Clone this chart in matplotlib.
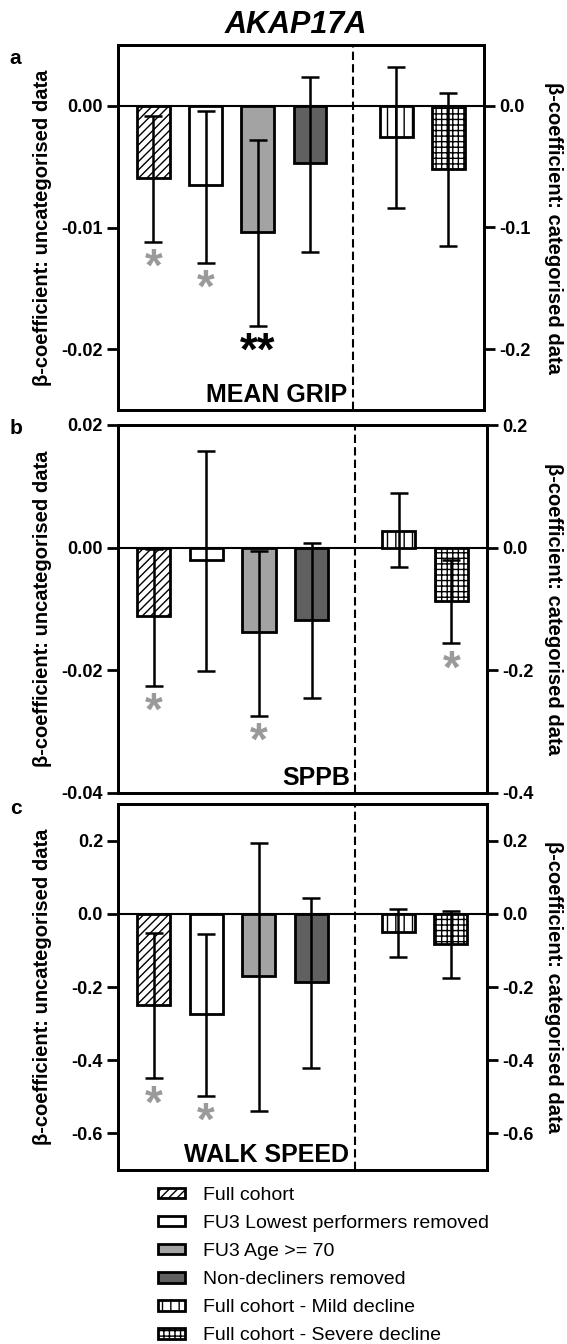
import numpy as np
import matplotlib
matplotlib.use("Agg")
import matplotlib.pyplot as plt
from matplotlib.patches import Patch
from matplotlib.ticker import FormatStrFormatter
from matplotlib.transforms import blended_transform_factory

# series (first four on the left axis, last two on the right axis)
series_names = ["Full cohort", "FU3 Lowest performers removed", "FU3 Age >= 70",
                "Non-decliners removed", "Full cohort - Mild decline",
                "Full cohort - Severe decline"]

# a: MEAN GRIP
grip_uncat = [-0.0059, -0.0065, -0.0104, -0.0047]
grip_uncat_lo = [-0.0112, -0.0129, -0.0181, -0.0120]
grip_uncat_hi = [-0.0008, -0.0004, -0.0028, 0.0024]
grip_cat = [-0.0255, -0.0516]
grip_cat_lo = [-0.0838, -0.1148]
grip_cat_hi = [0.0316, 0.0102]
grip_stars = ["*", "*", "**", "", "", ""]

# b: SPPB
sppb_uncat = [-0.0112, -0.0021, -0.0138, -0.0118]
sppb_uncat_lo = [-0.0226, -0.0201, -0.0275, -0.0245]
sppb_uncat_hi = [-0.0003, 0.0157, -0.0006, 0.0008]
sppb_cat = [0.0268, -0.0869]
sppb_cat_lo = [-0.0322, -0.1563]
sppb_cat_hi = [0.0896, -0.0208]
sppb_stars = ["*", "", "*", "", "", "*"]

# c: WALK SPEED
walk_uncat = [-0.250, -0.273, -0.169, -0.187]
walk_uncat_lo = [-0.449, -0.498, -0.538, -0.420]
walk_uncat_hi = [-0.053, -0.055, 0.194, 0.042]
walk_cat = [-0.051, -0.082]
walk_cat_lo = [-0.119, -0.175]
walk_cat_hi = [0.014, 0.007]
walk_stars = ["*", "*", "", "", "", ""]

plt.rcParams["font.family"] = ["Liberation Sans", "DejaVu Sans"]
plt.rcParams["font.weight"] = "bold"
plt.rcParams["axes.unicode_minus"] = False
plt.rcParams["hatch.linewidth"] = 1.0

fills = ["white", "white", "#a3a3a3", "#606060", "white", "white"]
hatches = ["////", "", "", "", "||", "+++"]
GRAY_STAR = "#9a9a9a"
BW = 0.63
x_uncat = np.arange(4)
x_cat = 4.65 + np.arange(2)
W, H = 567, 1344


def draw_bars(ax, xs, vals, lo, hi, idx0):
    vals = np.asarray(vals)
    bars = ax.bar(xs, vals, width=BW, color=fills[idx0:idx0 + len(xs)],
                  edgecolor="black", linewidth=2, zorder=2)
    for b, h in zip(bars, hatches[idx0:idx0 + len(xs)]):
        b.set_hatch(h)
    ax.errorbar(xs, vals, yerr=[vals - np.asarray(lo), np.asarray(hi) - vals],
                fmt="none", ecolor="black", elinewidth=1.8, capsize=6.2,
                capthick=1.8, zorder=3)


def draw_panel(box, uncat, ulo, uhi, cat, clo, chi, stars, ylim, lticks, scale,
               lfmt, rfmt, name, letter, letter_xy):
    left, top, right, bottom = box
    ax = fig.add_axes([left / W, 1 - bottom / H, (right - left) / W, (bottom - top) / H])
    ax.set_xlim(-0.67, 6.33)
    ax.set_ylim(*ylim)
    ax.axhline(0, color="black", lw=1.5, zorder=1)
    ax.axvline(3.825, color="black", lw=1.5, ls=(0, (4, 2)), zorder=1)
    draw_bars(ax, x_uncat, uncat, ulo, uhi, 0)

    ax2 = ax.twinx()
    ax2.set_ylim(ylim[0] * scale, ylim[1] * scale)
    draw_bars(ax2, x_cat, cat, clo, chi, 4)

    for a, ticks, fmt in ((ax, lticks, lfmt), (ax2, [t * scale for t in lticks], rfmt)):
        a.set_yticks(ticks)
        a.yaxis.set_major_formatter(FormatStrFormatter(fmt))
        a.set_xticks([])
        a.tick_params(axis="y", length=8, width=2, labelsize=13, pad=3)
        for s in a.spines.values():
            s.set_linewidth(2)

    # significance marks under the lower caps (** in black, * in grey)
    lows = list(ulo) + [v / scale for v in clo]
    xs = list(x_uncat) + list(x_cat)
    for xi, lv, st in zip(xs, lows, stars):
        if st:
            col = "black" if st == "**" else GRAY_STAR
            ax.annotate(st, (xi, lv), xytext=(0, -19.5), textcoords="offset points",
                        ha="center", va="center", fontsize=33, color=col)

    tr = blended_transform_factory(ax.transData, ax.transAxes)
    ax.text(3.72, 0.021, name, transform=tr, ha="right", va="baseline", fontsize=18)

    cy = (top + bottom) / 2
    fig.text(43 / W, 1 - cy / H, "β-coefficient: uncategorised data", rotation=90,
             ha="center", va="center", fontsize=14.5)
    fig.text(554 / W, 1 - cy / H, "β-coefficient: categorised data", rotation=270,
             ha="center", va="center", fontsize=14.5)
    fig.text(letter_xy[0] / W, 1 - letter_xy[1] / H, letter, ha="center", va="center",
             fontsize=15)
    return ax


fig = plt.figure(figsize=(W / 100, H / 100), dpi=100)

draw_panel((118.3, 45, 484, 410), grip_uncat, grip_uncat_lo, grip_uncat_hi,
           grip_cat, grip_cat_lo, grip_cat_hi, grip_stars, (-0.025, 0.005),
           [-0.02, -0.01, 0.0], 10, "%.2f", "%.1f", "MEAN GRIP", "a", (15.5, 59))
draw_panel((118.3, 425, 487.3, 792.7), sppb_uncat, sppb_uncat_lo, sppb_uncat_hi,
           sppb_cat, sppb_cat_lo, sppb_cat_hi, sppb_stars, (-0.04, 0.02),
           [-0.04, -0.02, 0.0, 0.02], 10, "%.2f", "%.1f", "SPPB", "b", (16, 429))
draw_panel((118.3, 804, 486.7, 1170), walk_uncat, walk_uncat_lo, walk_uncat_hi,
           walk_cat, walk_cat_lo, walk_cat_hi, walk_stars, (-0.7, 0.3),
           [-0.6, -0.4, -0.2, 0.0, 0.2], 1, "%.1f", "%.1f", "WALK SPEED", "c", (16, 808))

fig.text(295.7 / W, 1 - 25 / H, "AKAP17A", ha="center", va="center", fontsize=22,
         fontstyle="italic")

handles = [Patch(facecolor=f, edgecolor="black", hatch=h, linewidth=2)
           for f, h in zip(fills, hatches)]
fig.legend(handles, series_names, loc="upper left", bbox_to_anchor=(158 / W, 1 - 1187 / H),
           frameon=False, prop={"size": 14, "weight": "normal"}, handlelength=1.4,
           handleheight=0.45, handletextpad=0.9, labelspacing=0.57,
           borderaxespad=0, borderpad=0)

fig.savefig("out.png", dpi=100)
